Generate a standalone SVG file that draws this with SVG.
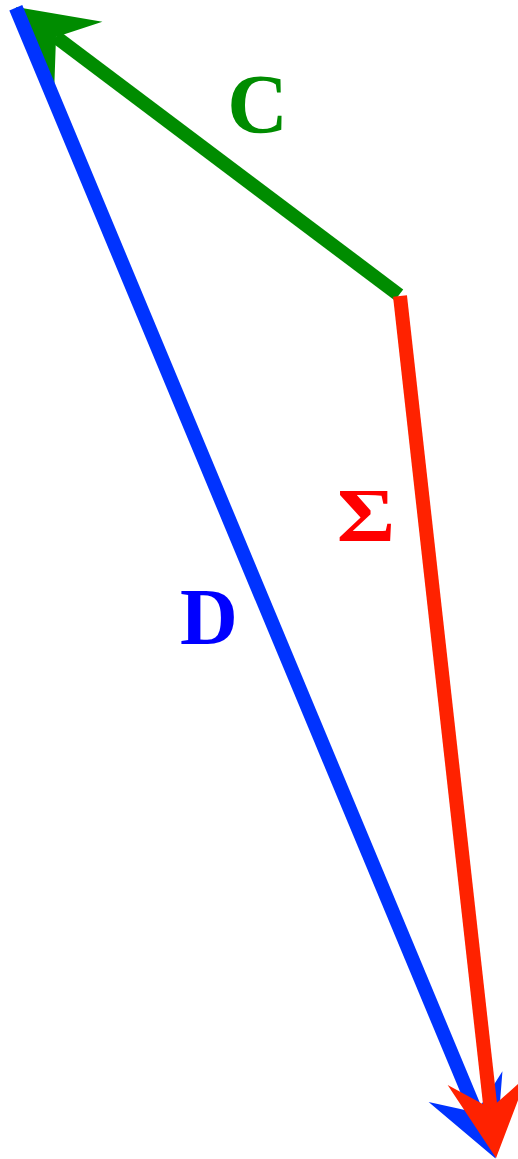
<svg xmlns="http://www.w3.org/2000/svg" width="518" height="1159" viewBox="0 0 518 1159">
<style>
.shaft{fill:none;stroke-width:14;stroke-linecap:butt}
.lbl{font-family:"Liberation Serif","Times New Roman",serif;font-weight:bold;text-anchor:middle}
</style>
<defs>
<marker id="ahG" markerUnits="userSpaceOnUse" markerWidth="200" markerHeight="200" refX="0" refY="0" orient="auto" overflow="visible"><path d="M50,0 L-28,-40 L0,0 L-28,40 Z" fill="#008c00"/></marker>
<marker id="ahB" markerUnits="userSpaceOnUse" markerWidth="200" markerHeight="200" refX="0" refY="0" orient="auto" overflow="visible"><path d="M50,0 L-28,-40 L0,0 L-28,40 Z" fill="#0033ff"/></marker>
<marker id="ahR" markerUnits="userSpaceOnUse" markerWidth="200" markerHeight="200" refX="0" refY="0" orient="auto" overflow="visible"><path d="M50,0 L-28,-40 L0,0 L-28,40 Z" fill="#ff2200"/></marker>
</defs>
<g id="connectors">
<line id="C" class="shaft" x1="399" y1="295" x2="56" y2="37" stroke="#008c00" marker-end="url(#ahG)"/>
<line id="D" class="shaft" x1="15.8" y1="7.8" x2="476.3" y2="1112.4" stroke="#0033ff" marker-end="url(#ahB)"/>
<line id="Sigma" class="shaft" x1="400" y1="296" x2="490.5" y2="1108.3" stroke="#ff2200" marker-end="url(#ahR)"/>
</g>
<g id="labels">
<text id="labelC" class="lbl" x="257.5" y="133" font-size="84" fill="#008c00">C</text>
<text id="labelSigma" class="lbl" transform="translate(366,541) scale(1.16,1)" x="0" y="0" font-size="77" fill="#ff0000">Σ</text>
<text id="labelD" class="lbl" x="209" y="644" font-size="80" fill="#0000ff">D</text>
</g>
</svg>
